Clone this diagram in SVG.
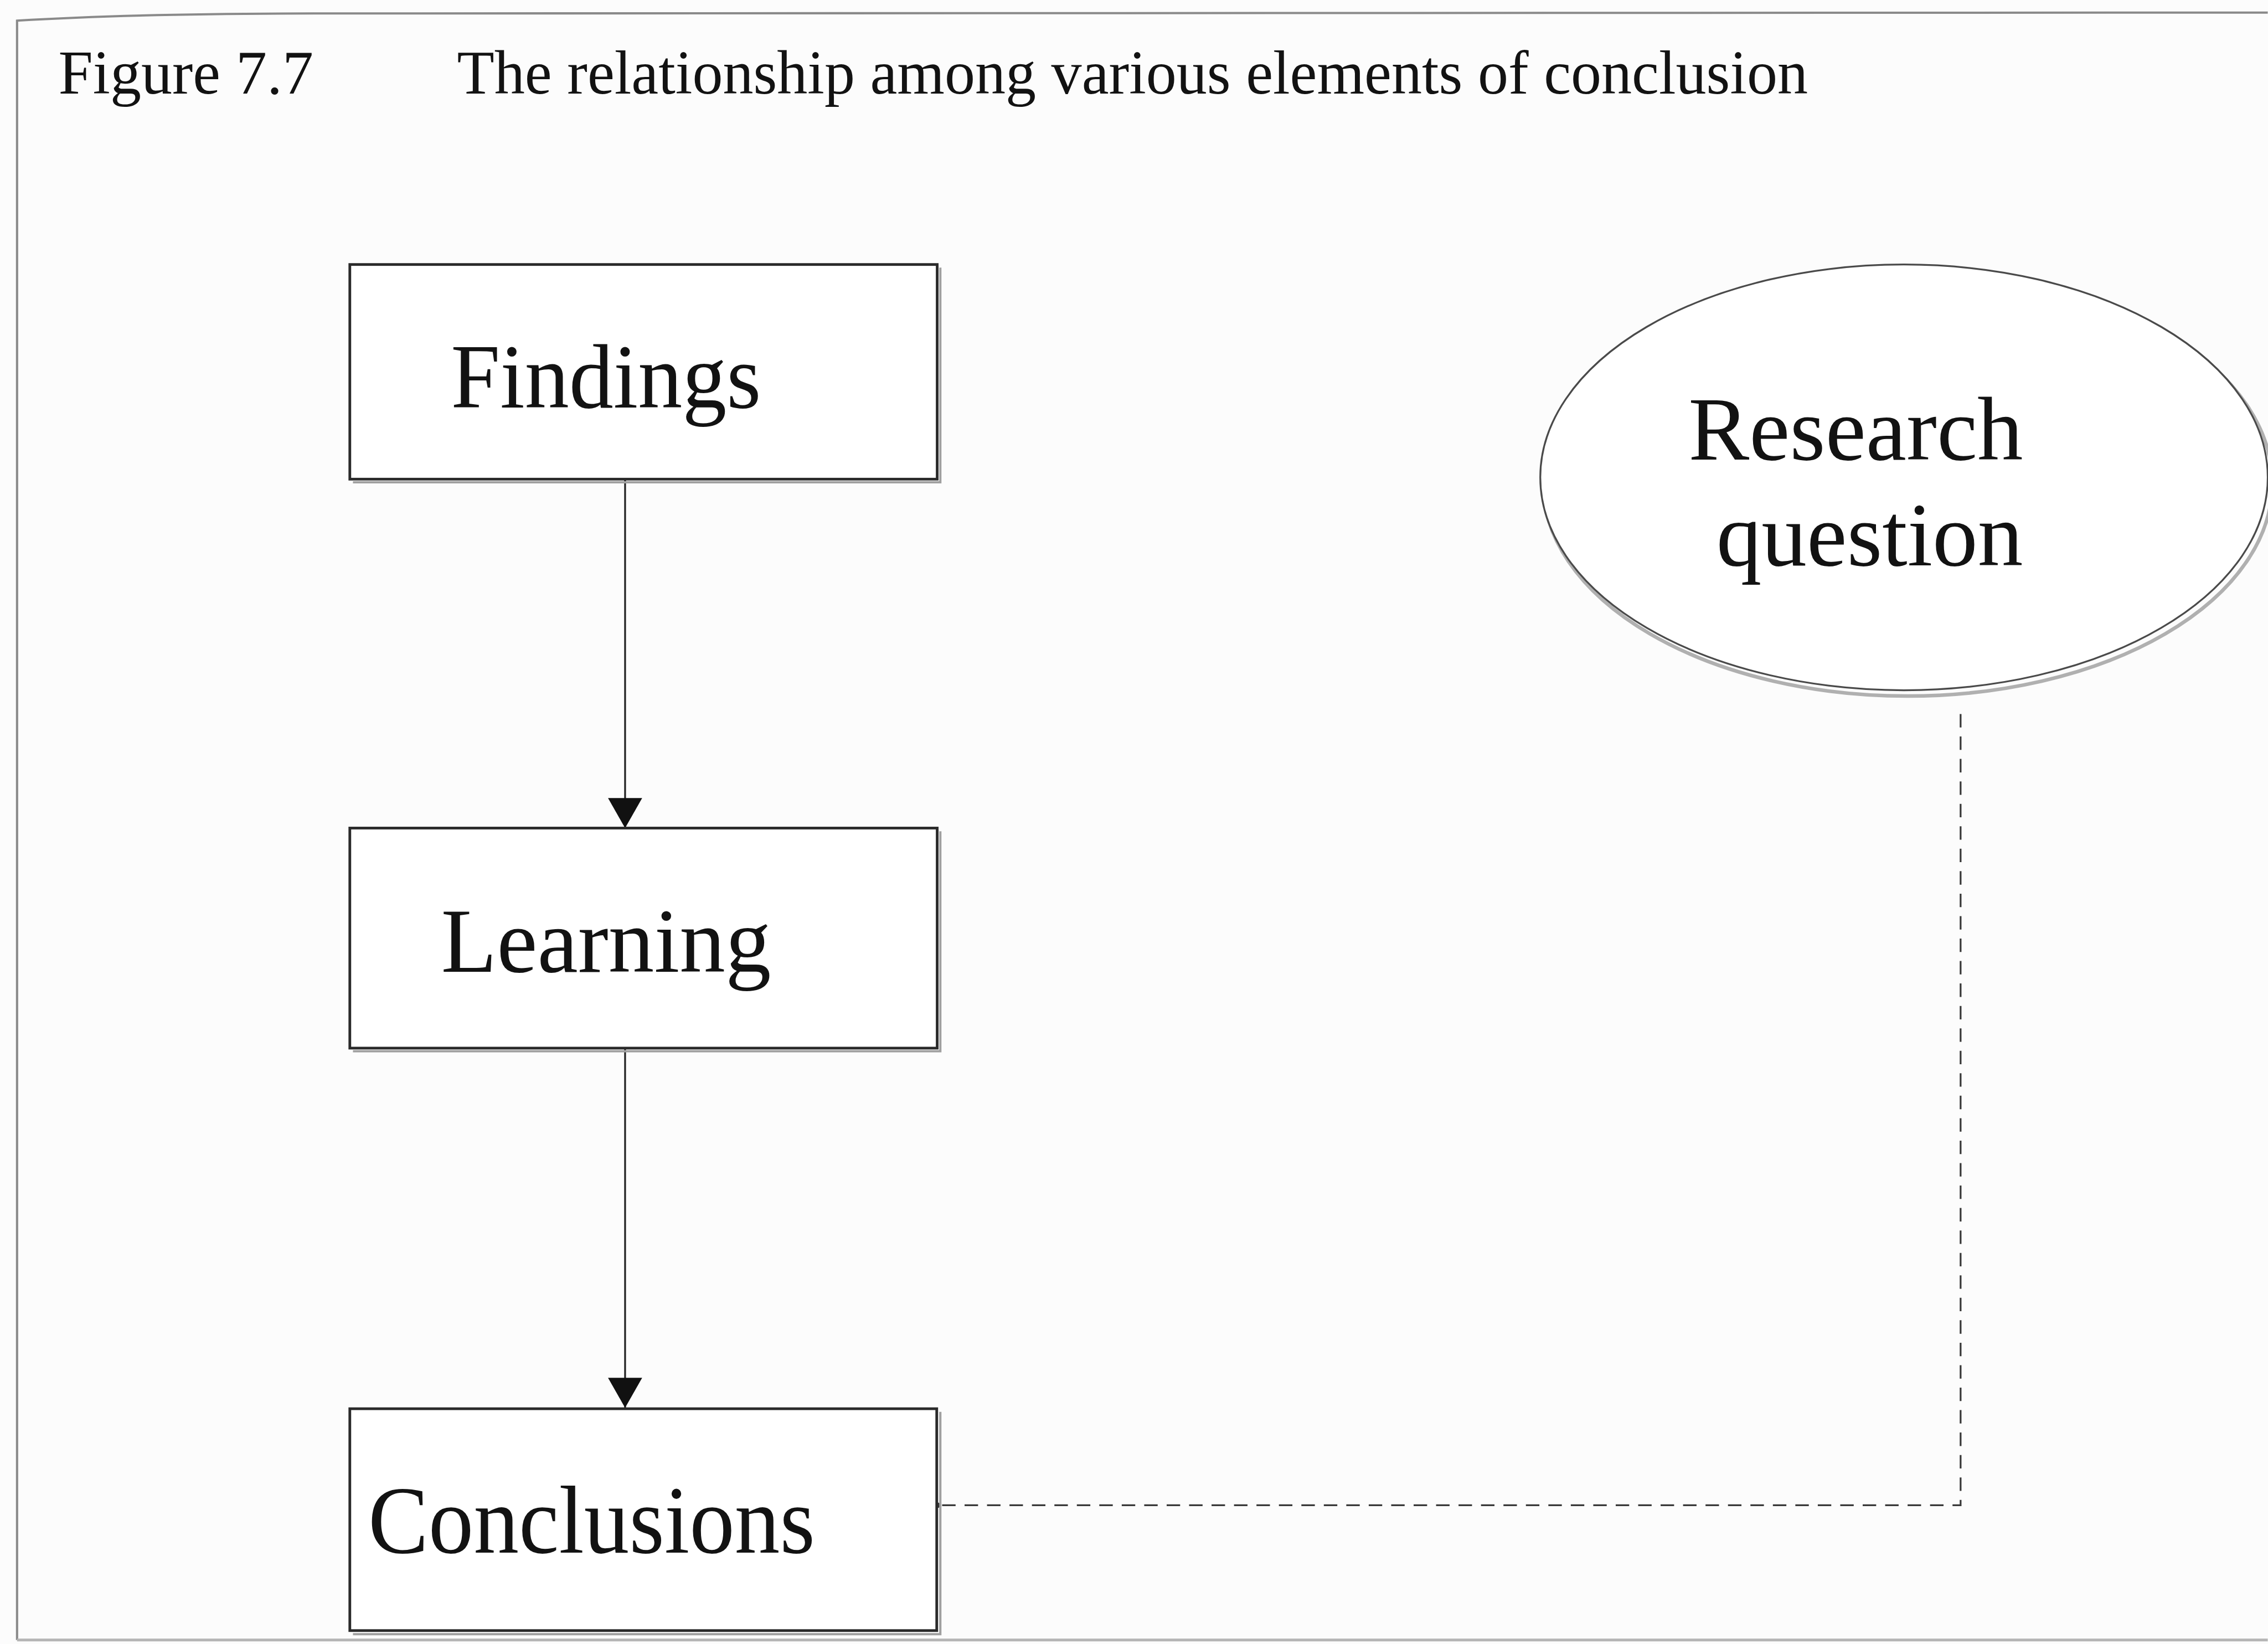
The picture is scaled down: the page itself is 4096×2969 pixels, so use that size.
<svg xmlns="http://www.w3.org/2000/svg" width="4096" height="2969" viewBox="0 0 4096 2969">
  <defs>
    <style>
      .serif { font-family: "Liberation Serif", "Times New Roman", serif; fill: #121212; }
      .title { font-size: 138px; }
      .label { font-size: 205px; }
      .box { fill: #ffffff; stroke: #2a2a2a; stroke-width: 6; }
      .shadow { fill: none; stroke: #a0a0a0; stroke-width: 5; }
      .flow { fill: none; stroke: #222; stroke-width: 4; }
      .dash { fill: none; stroke: #3a3a3a; stroke-width: 4; stroke-dasharray: 30 20; }
    </style>
    <!-- filled triangular arrowhead, tip at the line end -->
    <marker id="arrow" viewBox="0 0 67 76" refX="67" refY="38" markerWidth="67" markerHeight="76" markerUnits="userSpaceOnUse" orient="auto">
      <path d="M0,0 L67,38 L0,76 Z" fill="#111"/>
    </marker>
  </defs>

  <rect width="4096" height="2969" fill="#fcfcfc"/>

  <!-- everything below is laid out in 5050-wide units and scaled to fit -->
  <g transform="scale(0.811)">
    <!-- page frame -->
    <path d="M38,3652 L38,46 Q300,30 700,30 L5050,28" fill="none" stroke="#8a8a8a" stroke-width="5"/>
    <line x1="38" y1="3652" x2="5050" y2="3652" stroke="#b5b5b5" stroke-width="6"/>

    <!-- caption -->
    <g id="caption">
      <text class="serif title" x="130" y="209" textLength="568" lengthAdjust="spacingAndGlyphs">Figure 7.7</text>
      <text class="serif title" x="1018" y="209" textLength="3008" lengthAdjust="spacingAndGlyphs">The relationship among various elements of conclusion</text>
    </g>

    <!-- connectors -->
    <g id="connectors">
      <line class="flow" x1="1392" y1="1068" x2="1392" y2="1844" marker-end="url(#arrow)"/>
      <line class="flow" x1="1392" y1="2334" x2="1392" y2="3135" marker-end="url(#arrow)"/>
      <polyline class="dash" points="4366,1590 4366,3352 2086,3352"/>
      <circle cx="2088" cy="3352" r="6" fill="#333"/>
    </g>

    <!-- nodes -->
    <g id="findings">
      <polyline class="shadow" points="786,1074 2094,1074 2094,596"/>
      <rect class="box" x="779" y="589" width="1308" height="478"/>
      <text class="serif label" x="1004" y="908" textLength="691" lengthAdjust="spacingAndGlyphs">Findings</text>
    </g>

    <g id="learning">
      <polyline class="shadow" points="786,2341 2094,2341 2094,1851"/>
      <rect class="box" x="779" y="1844" width="1308" height="490"/>
      <text class="serif label" x="982" y="2164" textLength="735" lengthAdjust="spacingAndGlyphs">Learning</text>
    </g>

    <g id="conclusions">
      <polyline class="shadow" points="786,3639 2094,3639 2094,3144"/>
      <rect class="box" x="779" y="3137" width="1307" height="494"/>
      <text class="serif label" x="820" y="3457" style="font-size:215px" textLength="995" lengthAdjust="spacingAndGlyphs">Conclusions</text>
    </g>

    <g id="research-question">
      <ellipse cx="4242" cy="1068" rx="812" ry="474" fill="none" stroke="#b0b0b0" stroke-width="8" transform="translate(6,8)"/>
      <ellipse cx="4240" cy="1063" rx="810" ry="474" fill="#ffffff" stroke="#4a4a4a" stroke-width="4"/>
      <text class="serif label" x="3760" y="1024" style="font-size:200px" textLength="745" lengthAdjust="spacingAndGlyphs">Research</text>
      <text class="serif label" x="3822" y="1259" style="font-size:200px" textLength="683" lengthAdjust="spacingAndGlyphs">question</text>
    </g>
  </g>
</svg>
